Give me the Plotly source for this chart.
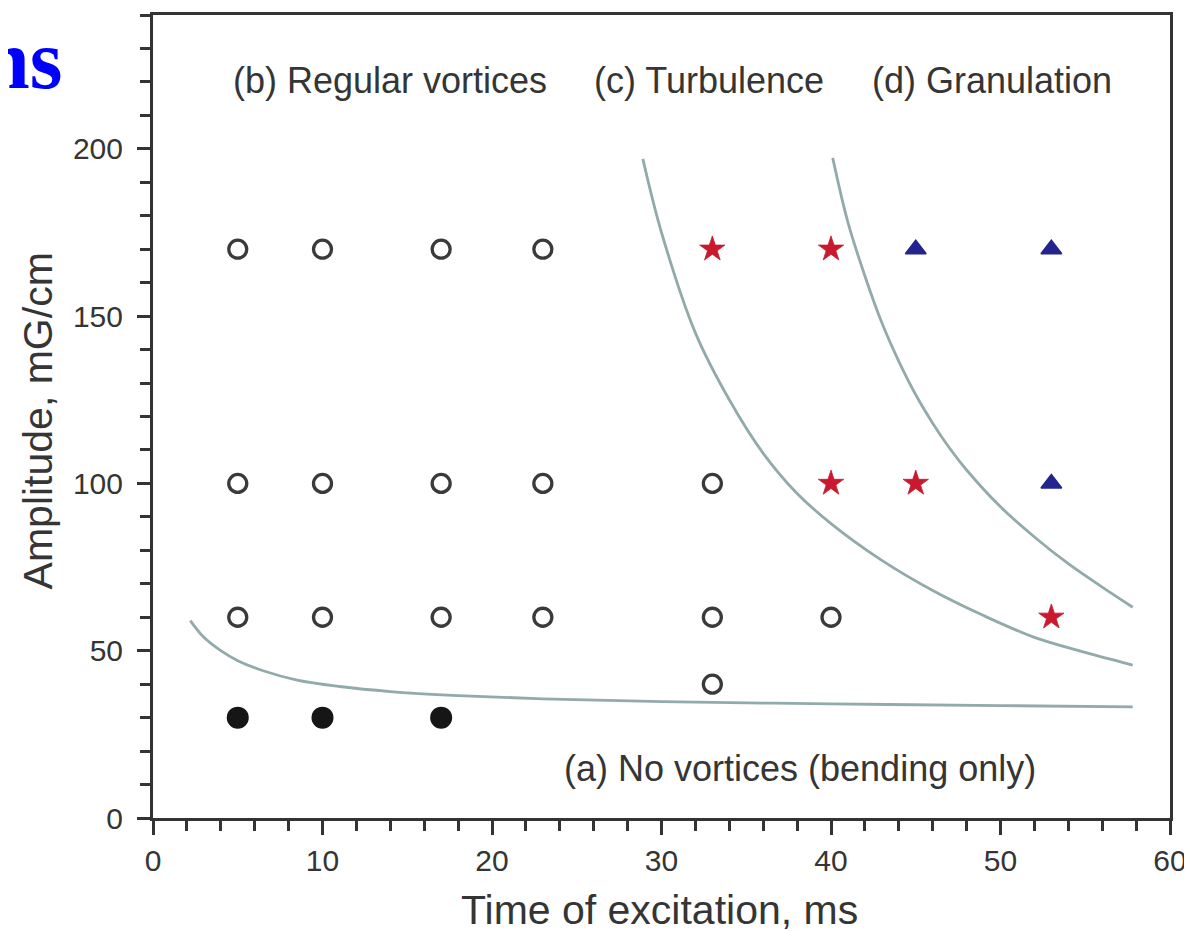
import plotly.graph_objects as go

# ---- data ----
open_x = [5, 10, 17, 23, 5, 10, 17, 23, 33, 5, 10, 17, 23, 33, 40, 33]
open_y = [170, 170, 170, 170, 100, 100, 100, 100, 100, 60, 60, 60, 60, 60, 60, 40]

filled_x = [5, 10, 17]
filled_y = [30, 30, 30]

star_x = [33, 40, 40, 45, 53]
star_y = [170, 170, 100, 100, 60]

tri_x = [45, 53, 53]
tri_y = [170, 170, 100]

# boundary curves
c1_x = [2.2, 3.0, 4.0, 5.0, 6.5, 8.5, 11.0, 14.0, 18.0, 23.0, 30.0, 40.0, 50.0, 57.8]
c1_y = [59.0, 54.0, 50.0, 47.0, 44.0, 41.2, 39.3, 37.8, 36.6, 35.6, 34.8, 34.1, 33.6, 33.2]

c2_x = [28.9, 30.0, 32.0, 34.0, 36.0, 38.0, 40.0, 43.0, 46.0, 49.0, 52.0, 55.0, 57.8]
c2_y = [197.0, 175.0, 145.0, 125.0, 109.0, 97.0, 88.0, 77.0, 68.0, 60.5, 54.0, 49.5, 45.7]

c3_x = [40.1, 41.0, 42.0, 43.0, 44.0, 45.0, 46.0, 47.0, 48.0, 50.0, 52.0, 54.0, 56.0, 57.8]
c3_y = [197.3, 178.0, 162.0, 148.0, 136.5, 126.5, 118.0, 110.5, 104.0, 93.0, 84.0, 76.0, 69.0, 63.0]

region_text = ["(b) Regular vortices", "(c) Turbulence", "(d) Granulation",
               "(a) No vortices (bending only)"]
region_x = [14.0, 32.8, 49.5, 38.2]
region_y = [220.3, 220.3, 220.3, 14.9]

x_ticks = [0, 10, 20, 30, 40, 50, 60]
y_ticks = [0, 50, 100, 150, 200]

FONT = "Liberation Sans, Arial, sans-serif"
TXT = "#353535"
CURVE = "#93aaaa"
AX = "#333333"

fig = go.Figure()

for cx, cy in [(c1_x, c1_y), (c2_x, c2_y), (c3_x, c3_y)]:
    fig.add_trace(go.Scatter(x=cx, y=cy, mode="lines",
                             line=dict(color=CURVE, width=2.8, shape="spline", smoothing=1.0),
                             hoverinfo="skip", showlegend=False))

fig.add_trace(go.Scatter(x=open_x, y=open_y, mode="markers", showlegend=False,
                         marker=dict(symbol="circle-open", size=18, color="#3a3a3a",
                                     line=dict(width=3.3, color="#3a3a3a"))))
fig.add_trace(go.Scatter(x=filled_x, y=filled_y, mode="markers", showlegend=False,
                         marker=dict(symbol="circle", size=22, color="#161616", line=dict(width=0))))
fig.add_trace(go.Scatter(x=star_x, y=star_y, mode="markers", showlegend=False,
                         marker=dict(symbol="star", size=19, color="#c8192f",
                                     line=dict(width=0.8, color="#c8192f"))))
fig.add_trace(go.Scatter(x=tri_x, y=tri_y, mode="markers", showlegend=False,
                         marker=dict(symbol="triangle-up", size=18, color="#24248e",
                                     line=dict(width=1.5, color="#24248e"))))

for t, x, y in zip(region_text, region_x, region_y):
    fig.add_annotation(x=x, y=y, xref="x", yref="y", text=t, showarrow=False,
                       font=dict(family=FONT, size=36, color=TXT), xanchor="center", yanchor="middle")

# axis titles
fig.add_annotation(x=0.4985, y=-0.1146, xref="paper", yref="paper", text="Time of excitation, ms",
                   showarrow=False, font=dict(family=FONT, size=41, color=TXT),
                   xanchor="center", yanchor="middle")
fig.add_annotation(x=-0.113, y=0.494, xref="paper", yref="paper", text="Amplitude, mG/cm", textangle=-90,
                   showarrow=False, font=dict(family=FONT, size=41, color=TXT),
                   xanchor="center", yanchor="middle")

# leftover slide title fragment
fig.add_annotation(x=-0.0875, y=0.9440, xref="paper", yref="paper", text="<b>ns</b>", showarrow=False,
                   font=dict(family="Liberation Serif, Times New Roman, serif", size=84, color="#0000ff"),
                   xanchor="right", yanchor="middle")

axis_common = dict(showgrid=False, zeroline=False, showline=True, linecolor=AX, linewidth=3,
                   mirror=True, ticks="outside", tickcolor=AX, tickwidth=3,
                   tickfont=dict(family=FONT, size=30, color=TXT))

fig.update_xaxes(range=[0, 60], tickvals=x_ticks, ticklen=14,
                 minor=dict(dtick=2, ticklen=10, tickwidth=3, tickcolor=AX, ticks="outside"),
                 **axis_common)
fig.update_yaxes(range=[0, 240], tickvals=y_ticks, ticklen=13, ticklabelstandoff=8,
                 minor=dict(dtick=10, ticklen=10, tickwidth=3, tickcolor=AX, ticks="outside"),
                 **axis_common)

# page body has an 8px margin, so the figure is sized to fill the rest of the window
fig.update_layout(width=1184, height=923, margin=dict(l=145, r=22, t=7, b=113, autoexpand=False),
                  plot_bgcolor="white", paper_bgcolor="white", showlegend=False)

fig.write_html("out.html")
